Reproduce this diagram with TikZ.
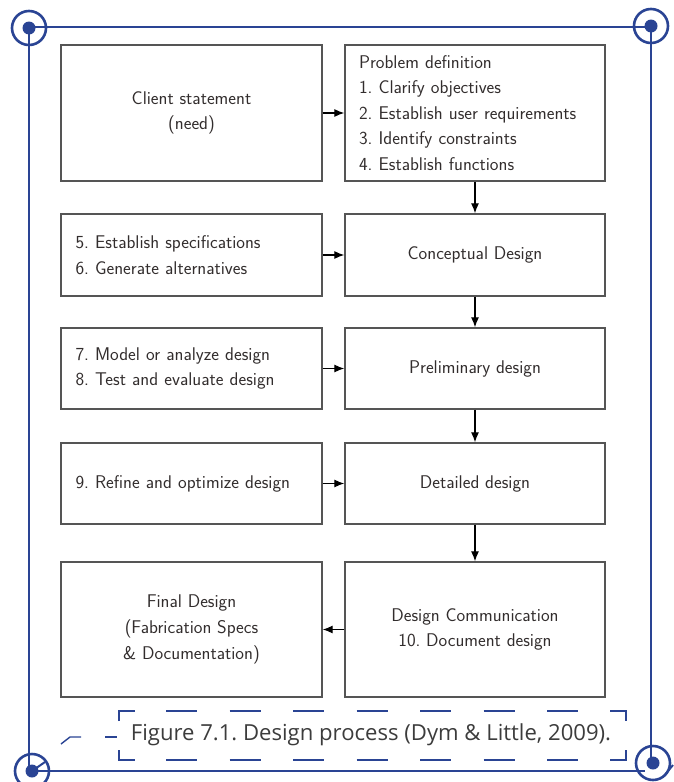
\documentclass[tikz,border=0pt]{standalone}
\usepackage{fontspec}
\newfontfamily\capfont{Open Sans}
\usetikzlibrary{arrows.meta}
\definecolor{frameblue}{RGB}{42,68,148}
\definecolor{boxgray}{RGB}{85,85,85}
\definecolor{txtgray}{RGB}{50,45,45}
\definecolor{capgray}{RGB}{60,60,60}
\frenchspacing
\begin{document}
\begin{tikzpicture}[x=1pt,y=-1pt,
  box/.style={draw=boxgray, line width=1.4pt, rectangle, inner sep=0pt,
    text=txtgray, font=\sffamily\fontsize{18.4}{25.6}\selectfont},
  lcol/.style={minimum width=261pt},
  rcol/.style={minimum width=260pt},
  list/.style={align=left, text width=232pt},
  ctr/.style={align=center},
  arr/.style={draw=black, line width=1.1pt, -{Latex[length=10pt,width=8pt]}},
  frame/.style={draw=frameblue, line width=2.6pt},
  capline/.style={draw=frameblue, line width=1.4pt},
  ring/.style={draw=frameblue, line width=2.6pt},
  dot/.style={fill=frameblue}]
\useasboundingbox (0,0) rectangle (673,782);

% outer frame with corner rings
\draw[frame] (29,27) -- (651,27);
\draw[frame] (29,28) -- (29,771);
\draw[frame] (651,26) -- (651,763);
\draw[frame] (32,771) -- (645,771);
\foreach \cx/\cy in {29/28, 651/26, 32/771, 653/763} {
  \draw[ring] (\cx,\cy) circle[radius=17pt];
  \fill[dot] (\cx,\cy) circle[radius=6.5pt];
}
\draw[frame, line width=2pt] (32,771) -- (45,762);
\draw[frame, line width=2pt] (664,776) -- (673,765);

% process boxes
\node[box,ctr,lcol,minimum height=136pt] (client) at (191.5,113)
  {Client statement\\(need)};
\node[box,list,rcol,minimum height=136pt] (probdef) at (475,113)
  {Problem definition\\1. Clarify objectives\\2. Establish user requirements\\3. Identify constraints\\4. Establish functions};

\node[box,list,lcol,minimum height=82pt] (specs) at (191.5,255)
  {5. Establish specifications\\6. Generate alternatives};
\node[box,ctr,rcol,minimum height=82pt] (concept) at (475,255)
  {Conceptual Design};

\node[box,list,lcol,minimum height=81pt] (model) at (191.5,368.5)
  {7. Model or analyze design\\8. Test and evaluate design};
\node[box,ctr,rcol,minimum height=81pt] (prelim) at (475,368.5)
  {Preliminary design};

\node[box,list,lcol,minimum height=81pt] (refine) at (191.5,483.5)
  {9. Refine and optimize design};
\node[box,ctr,rcol,minimum height=81pt] (detail) at (475,483.5)
  {Detailed design};

\node[box,ctr,lcol,minimum height=135pt] (final) at (191.5,629.5)
  {Final Design\\(Fabrication Specs\\\& Documentation)};
\node[box,ctr,rcol,minimum height=135pt] (comm) at (475,629.5)
  {Design Communication\\10. Document design};

% connectors
\draw[arr] (client.east) -- (probdef.west);
\draw[arr] (specs.east) -- (concept.west);
\draw[arr] (model.east) -- (prelim.west);
\draw[arr] (refine.east) -- (detail.west);
\draw[arr] (comm.west) -- (final.east);
\draw[arr] (probdef.south) -- (concept.north);
\draw[arr] (concept.south) -- (prelim.north);
\draw[arr] (prelim.south) -- (detail.north);
\draw[arr] (detail.south) -- (comm.north);

% caption with dashed frame
\node[font=\capfont\fontsize{22.1}{26}\selectfont, text=capgray, inner sep=0pt]
  (caption) at (371,735) {Figure 7.1. Design process (Dym \& Little, 2009).};
\draw[capline] (119,721) -- (119,711) -- (135,711);
\draw[capline] (610,711) -- (626,711) -- (626,721);
\draw[capline] (119,750) -- (119,760) -- (135,760);
\draw[capline] (610,760) -- (626,760) -- (626,750);
\foreach \k in {0,...,6} {
  \draw[capline] ({166+63.5*\k},711) -- ({197+63.5*\k},711);
  \draw[capline] ({166+63.5*\k},760) -- ({197+63.5*\k},760);
}
\draw[capline] (61,744) -- (70,737) -- (81,737);
\draw[capline] (105,737) -- (117,737);
\end{tikzpicture}
\end{document}
